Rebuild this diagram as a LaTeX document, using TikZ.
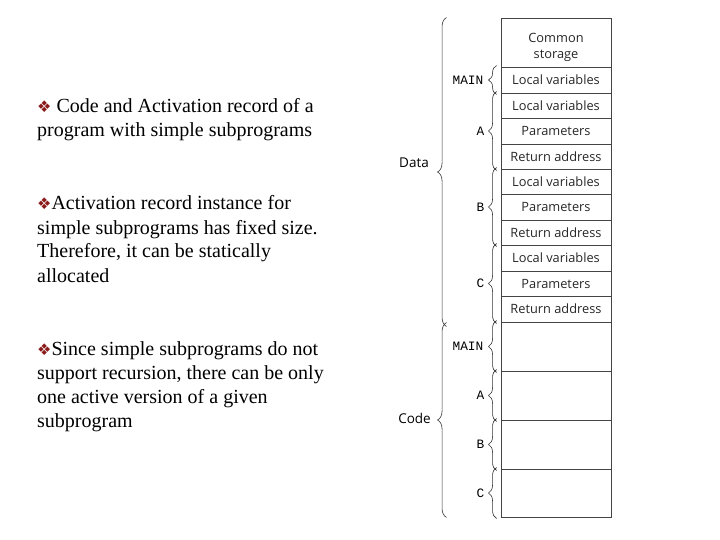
\documentclass[tikz,border=0pt]{standalone}
\usepackage{fontspec}
\setmainfont{Liberation Serif}
\newfontfamily\cellfont{Open Sans}
\newfontfamily\labmono{Liberation Mono}
\newfontfamily\symfont{DejaVu Sans}
\usetikzlibrary{decorations.pathreplacing}
\definecolor{bulred}{HTML}{8B1A1A}
\definecolor{lineg}{HTML}{444444}
\newcommand\bul{{\color{bulred}\symfont\fontsize{16}{16}\selectfont ❖}}
\tikzset{
  txt/.style={anchor=base west, inner sep=0pt, font=\fontsize{20}{23}\selectfont},
  cell/.style={draw=lineg, line width=0.9pt, minimum width=110pt, inner sep=0pt,
    align=center, text=black!85, font=\cellfont\fontsize{12.8}{16}\selectfont},
  lab/.style={anchor=east, inner sep=0pt, font=\labmono\fontsize{12.8}{12.8}\selectfont},
  biglab/.style={anchor=east, inner sep=0pt, font=\cellfont\fontsize{13.5}{13.5}\selectfont},
  brc/.style={draw=black!80, line width=0.6pt, decorate,
    decoration={brace, amplitude=8pt}},
  bigbrc/.style={draw=black!80, line width=0.6pt, decorate,
    decoration={brace, amplitude=9pt}}
}
\begin{document}
\begin{tikzpicture}[x=1pt,y=-1pt]
\useasboundingbox (0,0) rectangle (720,540);

% left text
\node[txt] (t11) at (37,113) {\bul\ Code and Activation record of a};
\node[txt] (t12) at (37,137) {program with simple subprograms};
\node[txt] (t21) at (37,210) {\bul Activation record instance for};
\node[txt] (t22) at (37,234) {simple subprograms has fixed size.};
\node[txt] (t23) at (37,258) {Therefore, it can be statically};
\node[txt] (t24) at (37,282) {allocated};
\node[txt] (t31) at (37,355) {\bul Since simple subprograms do not};
\node[txt] (t32) at (37,379) {support recursion, there can be only};
\node[txt] (t33) at (37,403) {one active version of a given};
\node[txt] (t34) at (37,427) {subprogram};

% stack cells
\node[cell, minimum height=49pt] (common) at (556,42.5) {};
\node[font=\cellfont\fontsize{12.8}{16}\selectfont, text=black!85, align=center, inner sep=0pt] (commontxt) at ([yshift=-5pt]common.center) {Common\\storage};
\node[cell, minimum height=26pt] (mainlv) at (556,80) {Local variables};
\node[cell, minimum height=25pt] (alv) at (556,105.5) {Local variables};
\node[cell, minimum height=26pt] (apar) at (556,131) {Parameters};
\node[cell, minimum height=25pt] (aret) at (556,156.5) {Return address};
\node[cell, minimum height=25pt] (blv) at (556,181.5) {Local variables};
\node[cell, minimum height=26pt] (bpar) at (556,207) {Parameters};
\node[cell, minimum height=25pt] (bret) at (556,232.5) {Return address};
\node[cell, minimum height=26pt] (clv) at (556,258) {Local variables};
\node[cell, minimum height=25pt] (cpar) at (556,283.5) {Parameters};
\node[cell, minimum height=26pt] (cret) at (556,309) {Return address};
\node[cell, minimum height=49pt] (cmain) at (556,346.5) {};
\node[cell, minimum height=49pt] (ca) at (556,395.5) {};
\node[cell, minimum height=49pt] (cb) at (556,444.5) {};
\node[cell, minimum height=48pt] (cc) at (556,493) {};

% small braces
\draw[brc] ([xshift=-4pt,yshift=-1pt]mainlv.south west) -- ([xshift=-4pt,yshift=1pt]mainlv.north west);
\draw[brc] ([xshift=-4pt,yshift=-1pt]aret.south west) -- ([xshift=-4pt,yshift=1pt]alv.north west);
\draw[brc] ([xshift=-4pt,yshift=-1pt]bret.south west) -- ([xshift=-4pt,yshift=1pt]blv.north west);
\draw[brc] ([xshift=-4pt,yshift=-1pt]cret.south west) -- ([xshift=-4pt,yshift=1pt]clv.north west);
\draw[brc] ([xshift=-4pt,yshift=-1pt]cmain.south west) -- ([xshift=-4pt,yshift=1pt]cmain.north west);
\draw[brc] ([xshift=-4pt,yshift=-1pt]ca.south west) -- ([xshift=-4pt,yshift=1pt]ca.north west);
\draw[brc] ([xshift=-4pt,yshift=-1pt]cb.south west) -- ([xshift=-4pt,yshift=1pt]cb.north west);
\draw[brc] ([xshift=-4pt,yshift=-1pt]cc.south west) -- ([xshift=-4pt,yshift=1pt]cc.north west);

% big braces
\draw[bigbrc] ([xshift=-54pt,yshift=-4pt]cret.south west) -- ([xshift=-54pt]common.north west);
\draw[bigbrc] ([xshift=-54pt]cc.south west) -- ([xshift=-54pt,yshift=-1pt]cmain.north west);

% labels
\node[lab] (lmain) at ([xshift=-17pt]mainlv.west) {MAIN};
\node[lab] (la) at ([xshift=-16pt]apar.west) {A};
\node[lab] (lb) at ([xshift=-16pt]bpar.west) {B};
\node[lab] (lc) at ([xshift=-16pt]cpar.west) {C};
\node[lab] (lcmain) at ([xshift=-17pt]cmain.west) {MAIN};
\node[lab] (lca) at ([xshift=-16pt]ca.west) {A};
\node[lab] (lcb) at ([xshift=-16pt]cb.west) {B};
\node[lab] (lcc) at ([xshift=-16pt]cc.west) {C};
\node[biglab] (ldata) at (429,163) {Data};
\node[biglab] (lcode) at (431,418) {Code};
\end{tikzpicture}
\end{document}
